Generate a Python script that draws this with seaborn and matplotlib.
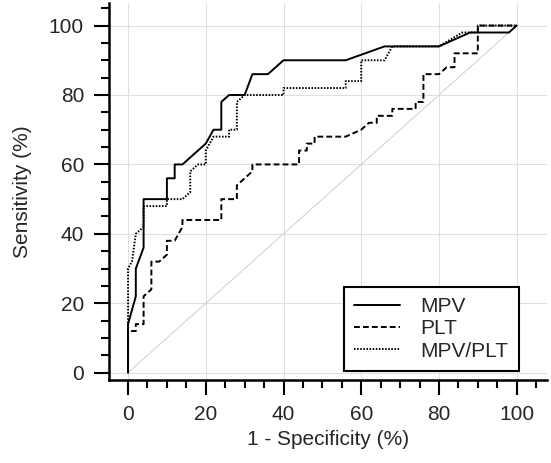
import numpy as np
import pandas as pd
import seaborn as sns
import matplotlib.pyplot as plt
from matplotlib.ticker import MultipleLocator

sns.set_style('whitegrid')
plt.rcParams['font.family'] = ['Liberation Sans', 'DejaVu Sans']

# ROC curves (1 - specificity %, sensitivity %)
mpv_x = [0, 0, 2, 2, 4, 4, 10, 10, 12, 12, 14, 20, 22, 24, 24, 26, 30, 32, 36, 40, 56, 66, 80, 88, 98, 100]
mpv_y = [0, 14, 22, 30, 36, 50, 50, 56, 56, 60, 60, 66, 70, 70, 78, 80, 80, 86, 86, 90, 90, 94, 94, 98, 98, 100]

plt_x = [0, 0, 2, 2, 4, 4, 6, 6, 8, 10, 10, 12, 14, 14, 24, 24, 28, 28, 32, 32, 44, 44, 46, 46, 48, 48,
         56, 60, 62, 64, 64, 68, 68, 74, 74, 76, 76, 80, 82, 84, 84, 90, 90, 100]
plt_y = [0, 12, 12, 14, 14, 22, 24, 32, 32, 34, 38, 38, 42, 44, 44, 50, 50, 54, 58, 60, 60, 64, 64, 66, 66, 68,
         68, 70, 72, 72, 74, 74, 76, 76, 78, 78, 86, 86, 88, 88, 92, 92, 100, 100]

ratio_x = [0, 0, 1, 2, 4, 4, 10, 10, 14, 16, 16, 18, 20, 20, 22, 26, 26, 28, 28, 30, 40, 40, 56, 56, 60, 60,
           66, 68, 80, 86, 90, 90, 100]
ratio_y = [0, 30, 32, 40, 42, 48, 48, 50, 50, 52, 58, 60, 60, 64, 68, 68, 70, 70, 78, 80, 80, 82, 82, 84, 84, 90,
           90, 94, 94, 98, 98, 100, 100]

series = [('MPV', mpv_x, mpv_y, '-'),
          ('PLT', plt_x, plt_y, (0, (3, 1.6))),
          ('MPV/PLT', ratio_x, ratio_y, (0, (0.8, 0.8)))]

fig = plt.figure(figsize=(5.51, 4.63), dpi=100)
ax = fig.add_axes([109 / 551, (463 - 380) / 463, (547 - 109) / 551, (380 - 3) / 463])

# chance line
ax.plot([0, 100], [0, 100], color='#c8c8c8', lw=0.6, zorder=1)

for name, xs, ys, ls in series:
    df = pd.DataFrame({'x': xs, 'y': ys})
    sns.lineplot(data=df, x='x', y='y', sort=False, estimator=None, ax=ax,
                 color='black', lw=1.4, linestyle=ls, label=name, zorder=3)

ax.set_xlim(-4.9, 107.8)
ax.set_ylim(-2.1, 106.5)
ax.xaxis.set_major_locator(MultipleLocator(20))
ax.yaxis.set_major_locator(MultipleLocator(20))
ax.xaxis.set_minor_locator(MultipleLocator(5))
ax.yaxis.set_minor_locator(MultipleLocator(5))
ax.grid(True, which='major', color='#e0e0e0', lw=0.8)
ax.grid(False, which='minor')

for side in ['top', 'right']:
    ax.spines[side].set_visible(False)
for side in ['left', 'bottom']:
    ax.spines[side].set_color('black')
    ax.spines[side].set_linewidth(1.8)

ax.tick_params(which='major', direction='out', length=11, width=1.5, color='black',
               labelsize=15, pad=7, left=True, bottom=True)
ax.tick_params(which='minor', direction='out', length=6, width=1.5, color='black',
               left=True, bottom=True)

ax.set_xlabel('1 - Specificity (%)', fontsize=15, labelpad=4)
ax.set_ylabel('Sensitivity (%)', fontsize=15, labelpad=12)

leg = ax.legend(loc='lower right', bbox_to_anchor=(519 / 551, (463 - 371) / 463),
                bbox_transform=fig.transFigure, borderaxespad=0, fancybox=False,
                fontsize=15, handlelength=2.2, labelspacing=0.15, borderpad=0.5,
                handletextpad=1.0, framealpha=1, edgecolor='black')
leg.get_frame().set_linewidth(1.5)

fig.savefig('out.png', dpi=100)
